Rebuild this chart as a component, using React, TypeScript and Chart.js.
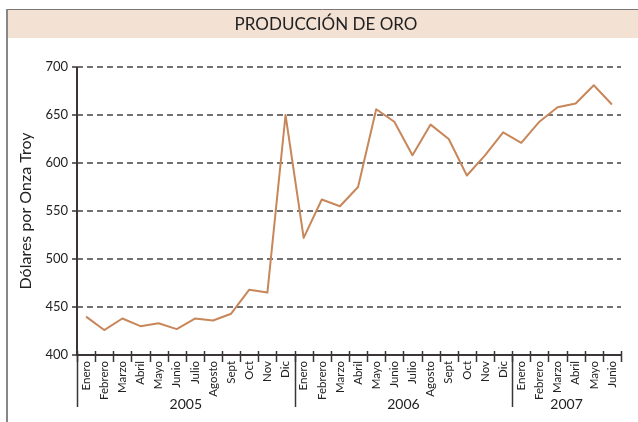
import React, { useEffect, useRef } from "react";
import { Chart, registerables } from "chart.js";

Chart.register(...registerables);

const chartTitle = "PRODUCCIÓN DE ORO";
const yAxisTitle = "Dólares por Onza Troy";
const months = ["Enero", "Febrero", "Marzo", "Abril", "Mayo", "Junio", "Julio", "Agosto", "Sept", "Oct", "Nov", "Dic"];
const years = ["2005", "2006", "2007"];
const monthsPerYear = [12, 12, 6];
const values2005 = [440, 426, 438, 430, 433, 427, 438, 436, 443, 468, 465, 650];
const values2006 = [522, 562, 555, 575, 656, 643, 608, 640, 625, 587, 608, 632];
const values2007 = [621, 643, 658, 662, 681, 661];
const yMin = 400;
const yMax = 700;
const yStep = 50;

const labels: string[] = [];
monthsPerYear.forEach((n) => {
  for (let i = 0; i < n; i++) labels.push(months[i]);
});
const values = [...values2005, ...values2006, ...values2007];

const FONT = "Lato, 'Open Sans', sans-serif";
const AXIS = "#3a3434";

const decorPlugin = {
  id: "decor",
  beforeDraw(chart: any) {
    const ctx = chart.ctx;
    ctx.save();
    ctx.fillStyle = "#ffffff";
    ctx.fillRect(0, 0, chart.width, chart.height);
    ctx.fillStyle = "#f3e2d4";
    ctx.fillRect(7, 10, chart.width - 7, 28);
    ctx.strokeStyle = "#7a7676";
    ctx.lineWidth = 1;
    ctx.beginPath();
    ctx.moveTo(7, 9.5);
    ctx.lineTo(chart.width, 9.5);
    ctx.stroke();
    ctx.strokeStyle = "#8a8686";
    ctx.lineWidth = 2;
    ctx.beginPath();
    ctx.moveTo(7, 9);
    ctx.lineTo(7, chart.height);
    ctx.stroke();
    ctx.fillStyle = "#222";
    ctx.font = `17px ${FONT}`;
    ctx.textAlign = "center";
    ctx.textBaseline = "middle";
    ctx.fillText(chartTitle, 326, 25);
    ctx.restore();
  },
  afterDraw(chart: any) {
    const ctx = chart.ctx;
    const xs = chart.scales.x;
    const a = chart.chartArea;
    const y0 = xs.top;
    ctx.save();
    ctx.setLineDash([]);
    ctx.strokeStyle = AXIS;
    ctx.lineWidth = 2;
    ctx.beginPath();
    ctx.moveTo(a.left, a.top);
    ctx.lineTo(a.left, a.bottom + 1);
    ctx.moveTo(a.left - 1, a.bottom);
    ctx.lineTo(a.right, a.bottom);
    ctx.stroke();
    ctx.lineWidth = 1.5;
    for (let i = 0; i <= labels.length; i++) {
      const x = Math.round(xs.getPixelForValue(i - 0.5)) + 0.5;
      ctx.beginPath();
      ctx.moveTo(x, y0 - 4);
      ctx.lineTo(x, y0 + 7);
      ctx.stroke();
    }
    let start = 0;
    ctx.fillStyle = "#222";
    ctx.font = `14px ${FONT}`;
    ctx.textAlign = "center";
    ctx.textBaseline = "middle";
    monthsPerYear.forEach((n, k) => {
      const xa = xs.getPixelForValue(start - 0.5);
      const xb = xs.getPixelForValue(start + n - 0.5);
      const xl = Math.round(xa) + 0.5;
      ctx.beginPath();
      ctx.moveTo(xl, y0);
      ctx.lineTo(xl, y0 + 52);
      ctx.stroke();
      ctx.fillText(years[k], (xa + xb) / 2, y0 + 49);
      start += n;
    });
    ctx.restore();
  },
};

export default function App() {
  const ref = useRef<HTMLCanvasElement>(null);
  useEffect(() => {
    if (!ref.current) return;
    const chart = new Chart(ref.current, {
      type: "line",
      data: {
        labels,
        datasets: [
          {
            data: values,
            borderColor: "#c8875a",
            borderWidth: 2,
            borderJoinStyle: "round",
            pointRadius: 0,
            tension: 0,
            fill: false,
          },
        ],
      },
      options: {
        responsive: false,
        animation: false,
        devicePixelRatio: 1,
        layout: { padding: { left: 7, right: 17, top: 67, bottom: 0 } },
        plugins: {
          legend: { display: false },
          tooltip: { enabled: false },
          title: { display: false },
        },
        scales: {
          x: {
            type: "category",
            offset: true,
            afterFit: (s: any) => {
              s.height = 67;
            },
            grid: { display: true, drawOnChartArea: false, drawTicks: false },
            border: { display: false },
            ticks: {
              autoSkip: false,
              maxRotation: 90,
              minRotation: 90,
              padding: 6,
              color: "#222",
              font: { family: FONT, size: 11.5 },
            },
          },
          y: {
            min: yMin,
            max: yMax,
            afterFit: (s: any) => {
              s.width = 70;
            },
            ticks: {
              stepSize: yStep,
              padding: 4,
              color: "#222",
              font: { family: FONT, size: 13 },
            },
            grid: {
              color: (c: any) => (c.tick && c.tick.value === yMin ? "rgba(0,0,0,0)" : "#737070"),
              lineWidth: 2,
              tickColor: AXIS,
              tickLength: 5,
              tickWidth: 1.5,
              tickBorderDash: [],
            },
            border: { display: false, dash: [6, 4] },
            title: {
              display: true,
              text: yAxisTitle,
              color: "#222",
              font: { family: FONT, size: 16, lineHeight: 1.2 },
              padding: { top: 9, bottom: 0 },
            },
          },
        },
      },
      plugins: [decorPlugin],
    });
    return () => chart.destroy();
  }, []);
  return (
    <div style={{ position: "absolute", left: 0, top: 0, width: 638, height: 422 }}>
      <canvas ref={ref} width={638} height={422} style={{ display: "block" }} />
    </div>
  );
}
